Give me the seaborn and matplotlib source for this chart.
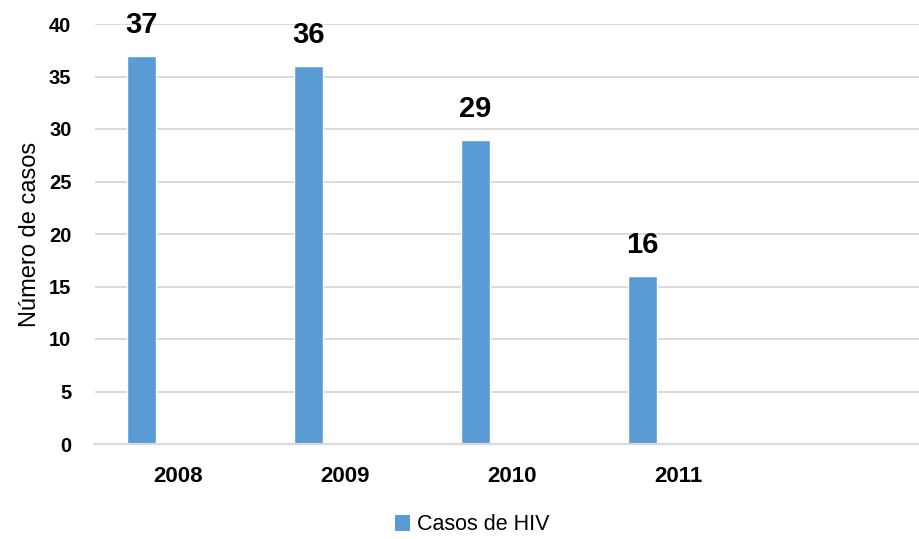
import matplotlib
matplotlib.use("Agg")
import matplotlib.pyplot as plt
import seaborn as sns
import pandas as pd
from matplotlib.patches import Patch

years = ["2008", "2009", "2010", "2011"]
cases = [37, 36, 29, 16]
series_name = "Casos de HIV"
y_ticks = [0, 5, 10, 15, 20, 25, 30, 35, 40]
y_label = "Número de casos"

sns.set_theme(style="white")
plt.rcParams["font.family"] = ["Liberation Sans Narrow", "Liberation Sans", "DejaVu Sans"]
plt.rcParams["text.color"] = "black"
plt.rcParams["axes.labelcolor"] = "black"
plt.rcParams["xtick.color"] = "black"
plt.rcParams["ytick.color"] = "black"

df = pd.DataFrame({"Ano": years, "Casos": cases, "Serie": [series_name] * len(years)})

fig = plt.figure(figsize=(9.2, 5.39), dpi=100)
ax = fig.add_axes([95 / 920, (539 - 444) / 539, 834 / 920, 420 / 539])

order = years + [" "]
hue_order = [series_name, "_s2", "_s3"]
palette = {series_name: "#5B9BD5", "_s2": "#ED7D31", "_s3": "#A5A5A5"}
sns.barplot(data=df, x="Ano", y="Casos", hue="Serie", order=order, hue_order=hue_order,
            palette=palette, width=0.657, gap=0.205, dodge=True, legend=False,
            saturation=1, ax=ax, errorbar=None)

ax.set_ylim(0, 40)
ax.set_yticks(y_ticks)
ax.set_yticklabels([str(t) for t in y_ticks], fontsize=14.5, fontweight="bold")
ax.tick_params(axis="y", length=0, pad=17)
ax.tick_params(axis="x", length=0, pad=16, labelsize=16)
for lbl in ax.get_xticklabels():
    lbl.set_fontweight("bold")
ax.set_xlabel("")
ax.set_ylabel(y_label, fontsize=17, labelpad=6)

ax.yaxis.grid(True, color="#d9d9d9", linewidth=1.4)
ax.set_axisbelow(True)
for s in ["top", "right", "left"]:
    ax.spines[s].set_visible(False)
ax.spines["bottom"].set_color("#d9d9d9")
ax.spines["bottom"].set_linewidth(1.6)

ax.bar_label(ax.containers[0], padding=12, fontsize=21, fontweight="bold", color="black")

fig.legend(handles=[Patch(facecolor="#5B9BD5", edgecolor="none", label=series_name)],
           loc="center", bbox_to_anchor=(472 / 920, 1 - 525 / 539), frameon=False,
           fontsize=15.5, handlelength=0.7, handleheight=0.7, handletextpad=0.3)

fig.savefig("out.png", dpi=100)
